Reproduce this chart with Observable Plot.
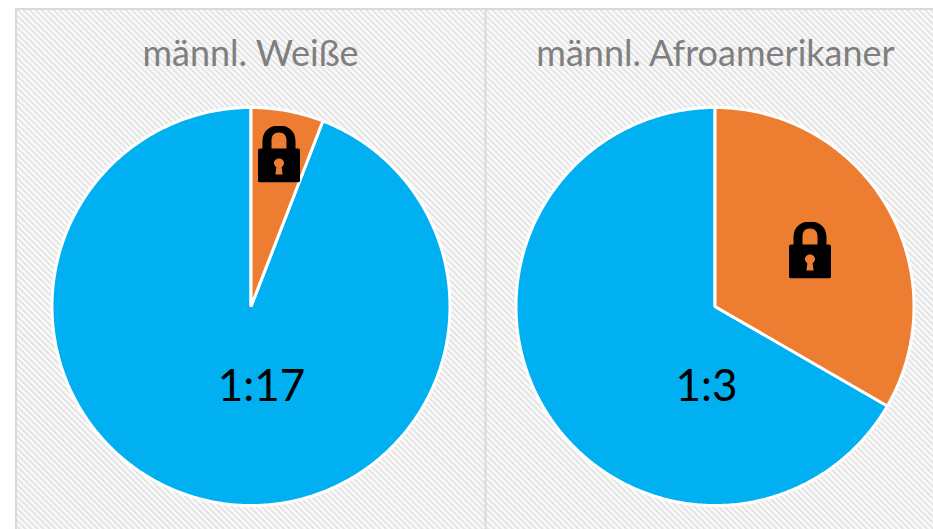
<!DOCTYPE html>
<html>
<head>
<meta charset="utf-8">
<script src="https://cdn.jsdelivr.net/npm/d3@7"></script>
<script src="https://cdn.jsdelivr.net/npm/@observablehq/plot@0.6"></script>
<style>
html,body{margin:0;padding:0;background:#fff;overflow:hidden}
svg{display:block}
</style>
</head>
<body>
<div id="chart"></div>
<script>
// Data
const groups = ["männl. Weiße", "männl. Afroamerikaner"];
const ratioLabels = ["1:17", "1:3"];
const lockedShare = [1, 1];
const freeShare = [16, 2];
const sliceNames = ["frei", "inhaftiert"];
const sliceColors = {frei: "#00b0f0", inhaftiert: "#ed7d31"};

// Layout (px in the 933x529 frame)
const W = 933, H = 529, R = 199, X0 = 250.5, Y0 = 306;
const ux = p => (p - X0) / R, uy = p => (Y0 - p) / R;
const pieCx = [250.5, 714.5], pieCy = 306;
const titleX = [250, 715], titleY = 54;
const labelX = [261, 706], labelY = 386;
const lockX = [278.5, 809.5], lockY = [153.5, 249.5];

const lockSvg = `<svg xmlns="http://www.w3.org/2000/svg" viewBox="0 0 42 57"><path fill-rule="evenodd" fill="#000" d="M2 23H4.5V16C4.5 6 11 0 21 0S37.5 6 37.5 16V23H40Q42 23 42 25V55Q42 57 40 57H2Q0 57 0 55V25Q0 23 2 23ZM13.5 23H28.5V15C28.5 10 26 7 21 7S13.5 10 13.5 15ZM21 33C18 33 16 35.2 16 37.6C16 39.6 17.2 41 18.4 41.8L17.4 49H24.6L23.6 41.8C24.8 41 26 39.6 26 37.6C26 35.2 24 33 21 33Z"/></svg>`;
const lockSrc = "data:image/svg+xml;utf8," + encodeURIComponent(lockSvg);

// Pie outlines derived from the values
const slices = groups.flatMap((g, i) => {
  const total = lockedShare[i] + freeShare[i];
  const a = 2 * Math.PI * lockedShare[i] / total;
  const parts = [[sliceNames[0], a, 2 * Math.PI], [sliceNames[1], 0, a]];
  return parts.flatMap(([name, a0, a1]) => {
    const n = Math.ceil((a1 - a0) * 90);
    const c = [ux(pieCx[i]), uy(pieCy)];
    const pts = [{group: g, name, x: c[0], y: c[1]}];
    for (let k = 0; k <= n; k++) {
      const t = a0 + (a1 - a0) * k / n;
      pts.push({group: g, name, x: c[0] + Math.sin(t), y: c[1] + Math.cos(t)});
    }
    return pts;
  });
});

const titles = groups.map((g, i) => ({t: g, x: ux(titleX[i]), y: uy(titleY)}));
const labels = ratioLabels.map((t, i) => ({t, x: ux(labelX[i]), y: uy(labelY)}));
const locks = groups.map((g, i) => ({x: ux(lockX[i]), y: uy(lockY[i])}));

const hatchDefs = () => {
  const ns = "http://www.w3.org/2000/svg";
  const defs = document.createElementNS(ns, "defs");
  const p = document.createElementNS(ns, "pattern");
  p.setAttribute("id", "hatch");
  p.setAttribute("patternUnits", "userSpaceOnUse");
  p.setAttribute("width", 4.25);
  p.setAttribute("height", 4.25);
  p.setAttribute("patternTransform", "rotate(-45)");
  const bg = document.createElementNS(ns, "rect");
  bg.setAttribute("width", 4.25); bg.setAttribute("height", 4.25); bg.setAttribute("fill", "#fcfcfc");
  const ln = document.createElementNS(ns, "rect");
  ln.setAttribute("width", 2.1); ln.setAttribute("height", 4.25); ln.setAttribute("fill", "#e4e4e4");
  p.append(bg, ln); defs.append(p);
  return defs;
};

const chart = Plot.plot({
  width: W, height: H,
  margin: 0,
  style: {background: "#fff", fontFamily: "Lato, sans-serif"},
  x: {axis: null, domain: [ux(0), ux(W)], range: [0, W]},
  y: {axis: null, domain: [uy(H), uy(0)], range: [H, 0]},
  color: {type: "identity"},
  marks: [
    hatchDefs,
    Plot.rect([{x1: ux(16), x2: ux(W + 4), y1: uy(H + 4), y2: uy(9)}], {
      x1: "x1", x2: "x2", y1: "y1", y2: "y2",
      fill: "url(#hatch)", stroke: "#d9d9d9", strokeWidth: 2
    }),
    Plot.ruleX([{x: ux(485), y1: uy(9), y2: uy(H)}], {x: "x", y1: "y1", y2: "y2", stroke: "#d9d9d9", strokeWidth: 2}),
    Plot.line(slices, {
      x: "x", y: "y", z: d => d.group + d.name,
      fill: d => sliceColors[d.name],
      stroke: "#fff", strokeWidth: 3, strokeLinejoin: "miter",
      curve: "linear-closed"
    }),
    Plot.image(locks, {x: "x", y: "y", src: () => lockSrc, width: 42, height: 57}),
    Plot.text(titles, {x: "x", y: "y", text: "t", fontSize: 36, fill: "#7f7f7f", fontFamily: "Lato, sans-serif"}),
    Plot.text(labels, {x: "x", y: "y", text: "t", fontSize: 44, fill: "#000", fontFamily: "Lato, sans-serif"})
  ]
});
document.getElementById("chart").append(chart);
</script>
</body>
</html>
